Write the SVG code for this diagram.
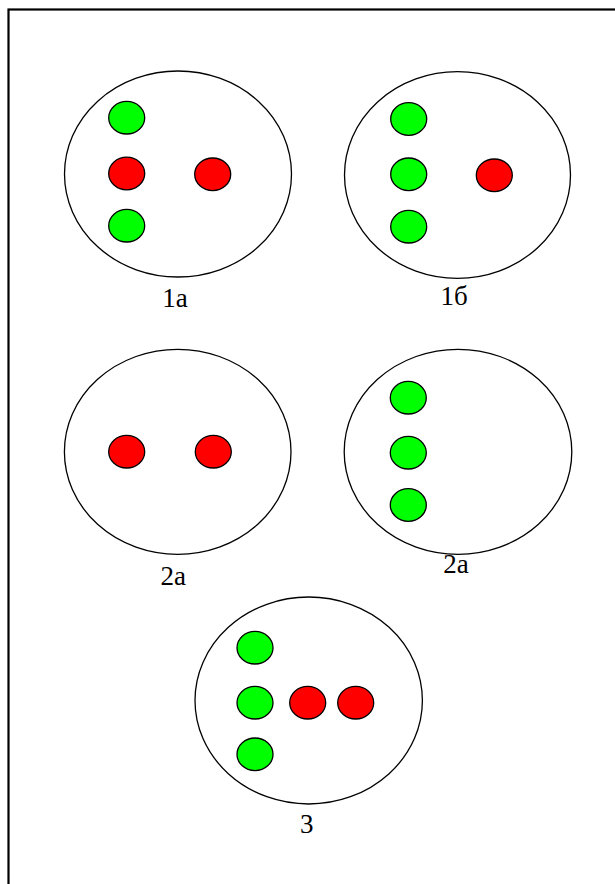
<svg xmlns="http://www.w3.org/2000/svg" width="615" height="884" viewBox="0 0 615 884">
<style>
.big{fill:#fff;stroke:#000;stroke-width:1.3}
.g{fill:#00ff00;stroke:#000;stroke-width:1.3}
.r{fill:#ff0000;stroke:#000;stroke-width:1.3}
text{font-family:'Liberation Serif','Times New Roman','DejaVu Serif',serif;font-size:27px;fill:#000;text-anchor:middle}
</style>
<rect x="0" y="0" width="615" height="884" fill="#fff"/>
<rect x="8.5" y="9.5" width="620" height="890" fill="none" stroke="#000" stroke-width="2.2"/>
<g id="n1a">
<ellipse class="big" cx="178" cy="174" rx="113.5" ry="103"/>
<ellipse class="g" cx="126.7" cy="117.7" rx="18" ry="16.3"/>
<ellipse class="r" cx="126.7" cy="173.5" rx="18" ry="16.3"/>
<ellipse class="r" cx="212.7" cy="174.3" rx="18" ry="16.3"/>
<ellipse class="g" cx="126.7" cy="225.7" rx="18" ry="16.3"/>
<text x="175" y="306.5" font-family="Liberation Serif, serif">1a</text>
</g>
<g id="n1b">
<ellipse class="big" cx="457.5" cy="175" rx="113" ry="103.3"/>
<ellipse class="g" cx="408.7" cy="119" rx="18" ry="16.3"/>
<ellipse class="g" cx="408.7" cy="174.3" rx="18" ry="16.3"/>
<ellipse class="g" cx="408.7" cy="226.7" rx="18" ry="16.3"/>
<ellipse class="r" cx="494.3" cy="175.3" rx="18" ry="16.3"/>
<text x="454" y="305" font-family="Liberation Serif, serif">1б</text>
</g>
<g id="n2a-left">
<ellipse class="big" cx="177.7" cy="451.8" rx="113.3" ry="102.5"/>
<ellipse class="r" cx="126.7" cy="451.7" rx="18" ry="16.3"/>
<ellipse class="r" cx="213.3" cy="451.7" rx="18" ry="16.3"/>
<text x="173.3" y="585" font-family="Liberation Serif, serif">2a</text>
</g>
<g id="n2a-right">
<ellipse class="big" cx="458" cy="451.8" rx="113.8" ry="102.5"/>
<ellipse class="g" cx="408.3" cy="397.7" rx="18" ry="16.3"/>
<ellipse class="g" cx="408.3" cy="452.7" rx="18" ry="16.3"/>
<ellipse class="g" cx="408.3" cy="505" rx="18" ry="16.3"/>
<text x="456" y="573.3" font-family="Liberation Serif, serif">2a</text>
</g>
<g id="n3">
<ellipse class="big" cx="308.7" cy="700.5" rx="113.7" ry="103.5"/>
<ellipse class="g" cx="255" cy="647.7" rx="18" ry="16.3"/>
<ellipse class="g" cx="255" cy="702.7" rx="18" ry="16.3"/>
<ellipse class="g" cx="255" cy="754.3" rx="18" ry="16.3"/>
<ellipse class="r" cx="307.7" cy="702.7" rx="18" ry="16.3"/>
<ellipse class="r" cx="355.7" cy="702.7" rx="18" ry="16.3"/>
<text x="306.7" y="833" font-family="Liberation Serif, serif">3</text>
</g>
<g id="connectors"></g>
</svg>
